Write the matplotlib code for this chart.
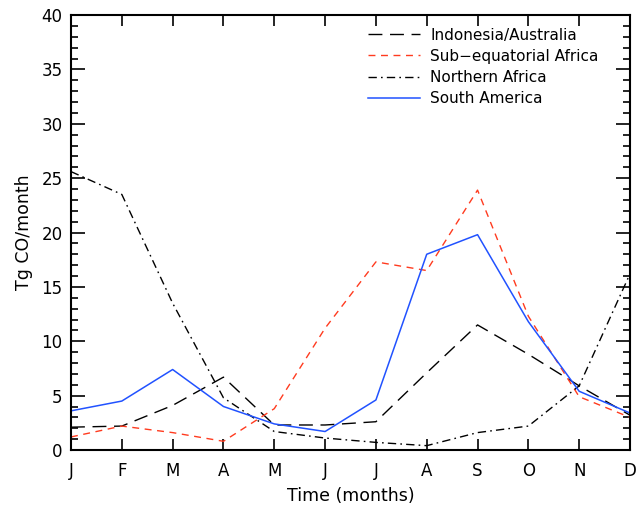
import matplotlib
matplotlib.use("Agg")
import matplotlib.pyplot as plt
from matplotlib.ticker import MultipleLocator

months = ["J", "F", "M", "A", "M", "J", "J", "A", "S", "O", "N", "D"]
indonesia = [2.1, 2.2, 4.1, 6.7, 2.3, 2.3, 2.6, 7.1, 11.5, 8.8, 5.9, 3.2]
sub_eq_africa = [1.2, 2.2, 1.6, 0.8, 3.8, 11.2, 17.3, 16.5, 23.9, 12.3, 4.9, 3.0]
northern_africa = [25.6, 23.5, 13.5, 4.8, 1.7, 1.1, 0.7, 0.4, 1.6, 2.2, 5.9, 16.2]
south_america = [3.6, 4.5, 7.4, 4.0, 2.4, 1.7, 4.6, 18.0, 19.8, 11.8, 5.4, 3.4]

plt.rcParams['font.family'] = ['DejaVu Sans']

fig = plt.figure(figsize=(6.36, 5.05), dpi=100)
ax = fig.add_axes([71/636, 1 - 450/505, (630-71)/636, (450-15)/505])

x = list(range(len(months)))
ax.plot(x, indonesia, color='black', lw=1.0, dashes=(10, 5.5), label='Indonesia/Australia')
ax.plot(x, sub_eq_africa, color='#ff3b1f', lw=1.0, dashes=(5, 4), label='Sub\u2212equatorial Africa')
ax.plot(x, northern_africa, color='black', lw=1.0, dashes=(6, 3, 1.2, 3), label='Northern Africa')
ax.plot(x, south_america, color='#2152ff', lw=1.1, label='South America')

ax.set_xlim(0, 11)
ax.set_ylim(0, 40)
ax.set_xticks(x)
ax.set_xticklabels(months)
ax.yaxis.set_major_locator(MultipleLocator(5))
ax.yaxis.set_minor_locator(MultipleLocator(1))
ax.tick_params(axis='both', which='both', direction='in', top=True, right=True, labelsize=12, width=1.2)
ax.tick_params(axis='x', which='major', length=8, pad=9)
ax.tick_params(axis='y', which='major', length=10, pad=6)
ax.tick_params(axis='y', which='minor', length=5)
for s in ax.spines.values():
    s.set_linewidth(1.5)

ax.set_xlabel('Time (months)', fontsize=12.5, labelpad=5)
ax.set_ylabel('Tg CO/month', fontsize=12.5, labelpad=6)

leg = ax.legend(loc='upper left', bbox_to_anchor=(0.52, 0.985), frameon=False, fontsize=11,
                handlelength=3.4, handletextpad=0.7, labelspacing=0.4, borderaxespad=0)

fig.savefig('out.png', dpi=100)
